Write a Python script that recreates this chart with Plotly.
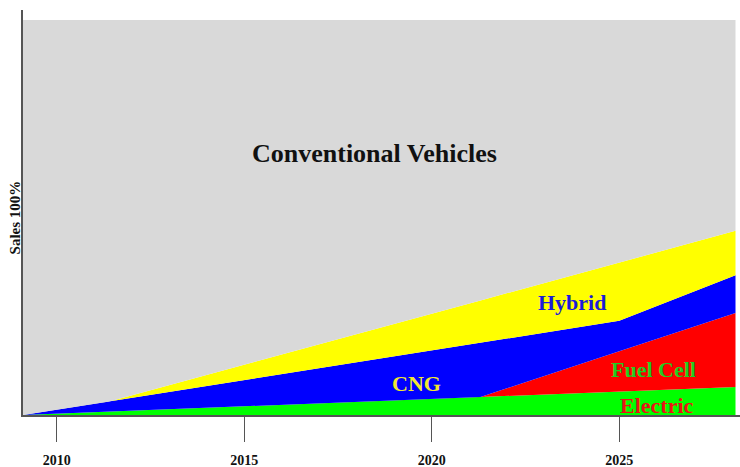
import plotly.graph_objects as go

# breakpoints of the stacked shares (years)
years = [2009.1, 2011.4, 2021.3, 2025.0, 2028.1]

# share of sales per technology (%), layers stacked bottom to top
electric = [0.0, 0.86, 4.56, 5.94, 7.1]
fuel_cell = [0.0, 0.0, 0.0, 10.2, 18.7]
cng = [0.0, 2.58, 13.7, 7.7, 9.6]
hybrid = [0.0, 0.0, 10.74, 14.8, 11.2]
conventional = [100 - (e + f + c + h) for e, f, c, h in zip(electric, fuel_cell, cng, hybrid)]

tick_years = [2010, 2015, 2020, 2025]
tick_labels = ["2010", "2015", "2020", "2025"]

serif = "Liberation Serif, Times New Roman, serif"

layers = [
    ("Electric", electric, "#00ff00"),
    ("Fuel Cell", fuel_cell, "#ff0000"),
    ("CNG", cng, "#0000ff"),
    ("Hybrid", hybrid, "#ffff00"),
    ("Conventional Vehicles", conventional, "#d9d9d9"),
]

fig = go.Figure()
for name, vals, color in layers:
    fig.add_trace(
        go.Scatter(
            x=years,
            y=vals,
            name=name,
            mode="lines",
            stackgroup="sales",
            line=dict(width=0, color=color),
            fillcolor=color,
            hoverinfo="skip",
        )
    )

# in-chart labels
labels = [
    ("Conventional Vehicles", 2018.46, 66.3, "#111111", 26),
    ("Hybrid", 2023.74, 28.6, "#1c1cd8", 22),
    ("CNG", 2019.6, 8.1, "#f2e830", 22),
    ("Fuel Cell", 2025.9, 11.4, "#22cc22", 22),
    ("Electric", 2026.0, 2.5, "#e81515", 22),
]
for text, lx, ly, col, size in labels:
    fig.add_annotation(
        x=lx, y=ly, xref="x", yref="y", text=text, showarrow=False,
        font=dict(family=serif, size=size, color=col, weight="bold"),
    )

fig.add_annotation(
    x=0, y=50, xref="paper", yref="y", xshift=-8, text="Sales 100%",
    textangle=-90, showarrow=False, xanchor="center",
    font=dict(family=serif, size=15, color="#111111", weight="bold"),
)

fig.update_layout(
    width=740,
    height=467,
    margin=dict(l=23, r=0, t=10, b=52),
    paper_bgcolor="white",
    plot_bgcolor="white",
    showlegend=False,
    xaxis=dict(
        range=[2009.1, 2028.22],
        tickvals=tick_years,
        ticktext=tick_labels,
        ticks="outside",
        ticklen=25,
        tickwidth=1,
        tickcolor="#555555",
        ticklabelstandoff=6,
        automargin=False,
        showgrid=False,
        zeroline=False,
        showline=True,
        linecolor="#555555",
        linewidth=2,
        tickfont=dict(family=serif, size=14, color="#111111", weight="bold"),
    ),
    yaxis=dict(
        range=[0, 102.5],
        showticklabels=False,
        automargin=False,
        showgrid=False,
        zeroline=False,
        showline=True,
        linecolor="#555555",
        linewidth=2,
    ),
)

# drop the default page margin so the figure sits at the window's corner
fig.write_html(
    "out.html",
    config={"displayModeBar": False},
    post_script="document.body.style.margin = '0';",
)
